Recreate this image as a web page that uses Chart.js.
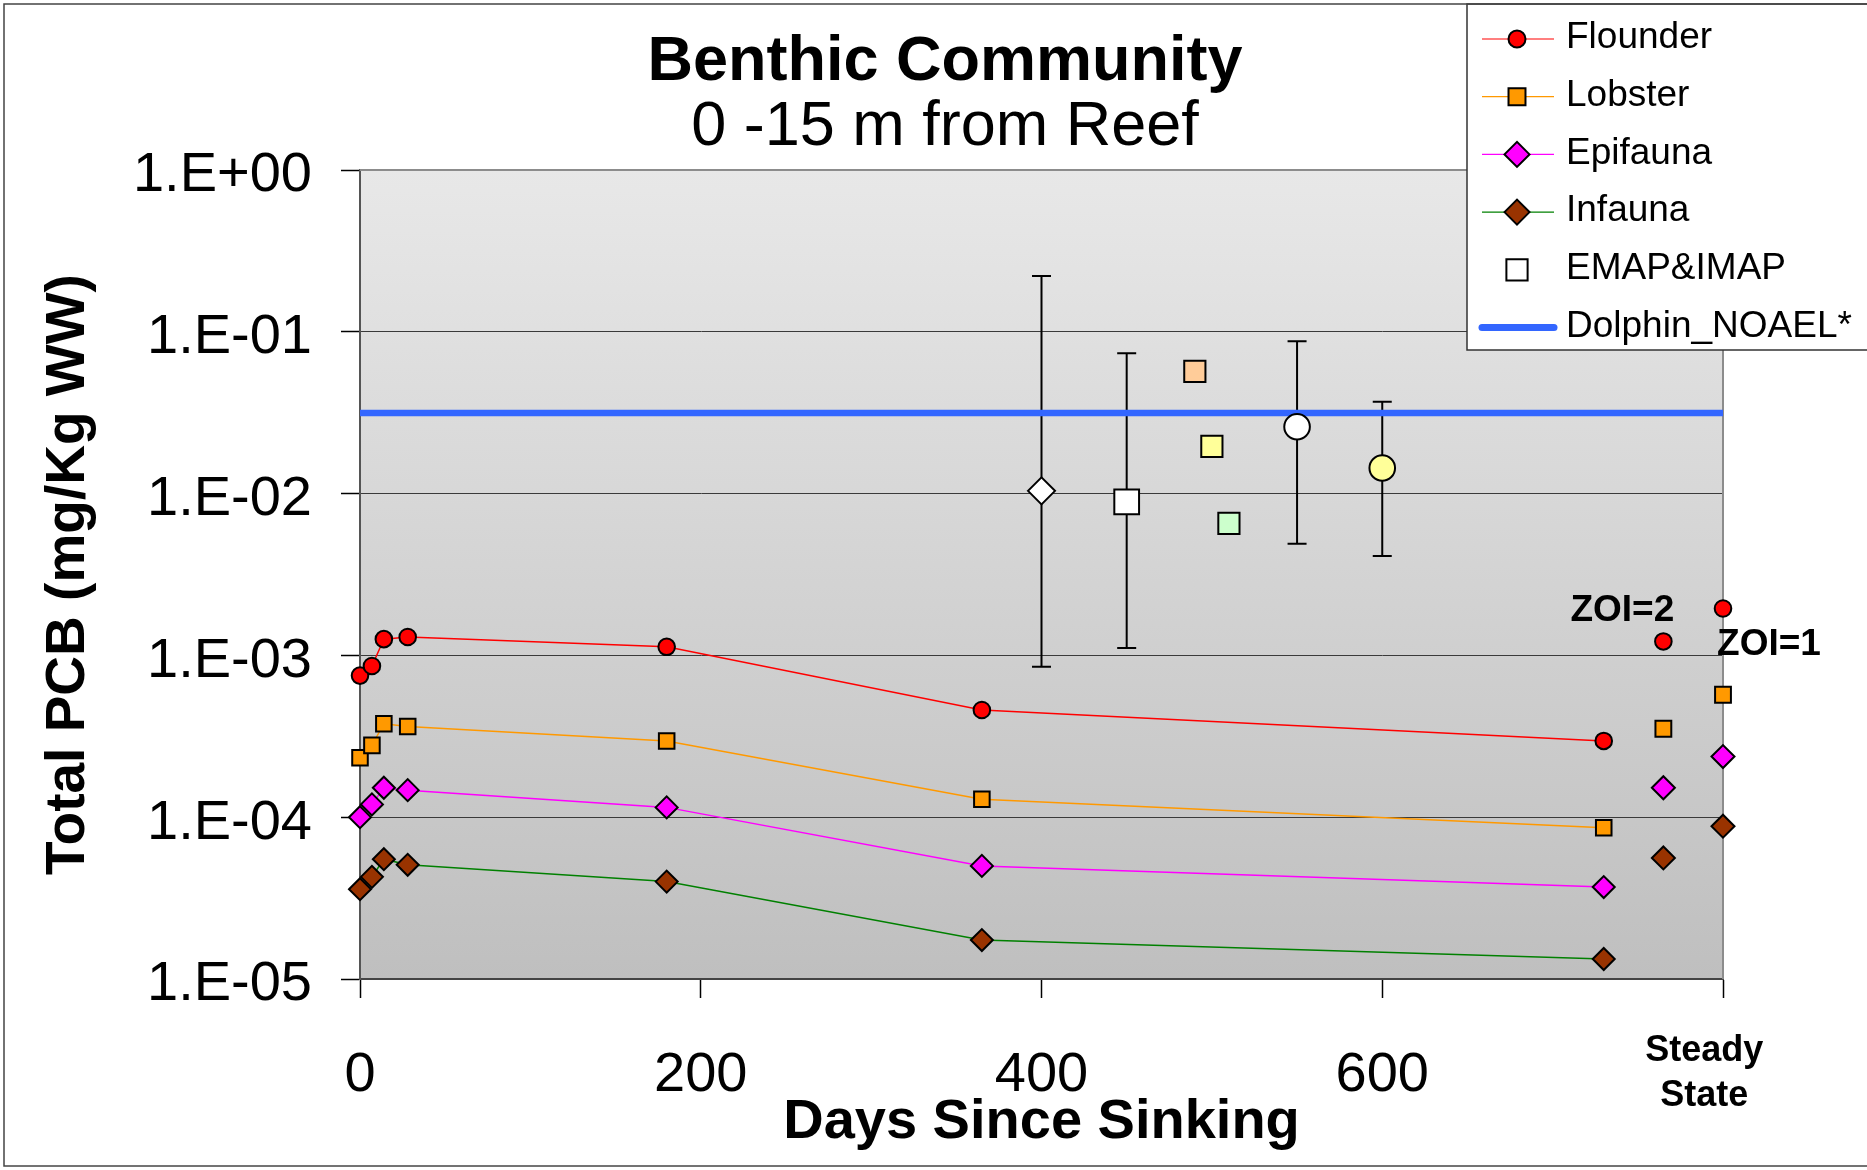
<!DOCTYPE html>
<html>
<head>
<meta charset="utf-8">
<title>Benthic Community</title>
<script src="https://cdn.jsdelivr.net/npm/chart.js@4.4.1/dist/chart.umd.min.js"></script>
<style>
  html, body { margin: 0; padding: 0; background: #fff; }
  #wrap { position: relative; width: 1867px; height: 1170px; }
</style>
</head>
<body>
<div id="wrap"><canvas id="chart"></canvas></div>
<script>
// ---- values ----
const seriesDays = [0, 7, 14, 28, 180, 365, 730];
const flounder = [7.5e-4, 8.6e-4, 1.26e-3, 1.30e-3, 1.13e-3, 4.6e-4, 2.96e-4];
const lobster  = [2.33e-4, 2.78e-4, 3.78e-4, 3.64e-4, 2.96e-4, 1.29e-4, 8.6e-5];
const epifauna = [1.0e-4, 1.2e-4, 1.52e-4, 1.47e-4, 1.15e-4, 5.0e-5, 3.7e-5];
const infauna  = [3.59e-5, 4.28e-5, 5.5e-5, 5.08e-5, 4.0e-5, 1.74e-5, 1.33e-5];

// steady state: ZOI=2 then ZOI=1
const steadyDays = [765, 800];
const flounderSS = [1.22e-3, 1.95e-3];
const lobsterSS  = [3.52e-4, 5.71e-4];
const epifaunaSS = [1.52e-4, 2.37e-4];
const infaunaSS  = [5.6e-5, 8.8e-5];
const zoiLabels  = ['ZOI=2', 'ZOI=1'];

// EMAP & IMAP monitoring values with ranges
const emapDays   = [400, 450, 490, 500, 510, 550, 600];
const emapValues = [0.0104, 0.0089, 0.057, 0.0196, 0.00655, 0.0259, 0.0144];
const emapLow    = [8.5e-4, 1.11e-3, null, null, null, 4.89e-3, 4.12e-3];
const emapHigh   = [0.221, 0.0736, null, null, null, 0.0875, 0.037];

const noaelDays   = [0, 800];
const noaelValues = [0.0315, 0.0315];

// x ticks; the "Steady State" caption sits a little left of the last tick
const xTickValues = [0, 200, 400, 600, 789, 800];
const xTickLabels = ['0', '200', '400', '600', ['Steady', 'State'], ''];
const steadyLabelDay = 789;
const yTickValues = [1e-5, 1e-4, 1e-3, 1e-2, 1e-1, 1];
const yTickLabels = ['1.E-05', '1.E-04', '1.E-03', '1.E-02', '1.E-01', '1.E+00'];

const legendOrder = ['Flounder', 'Lobster', 'Epifauna', 'Infauna', 'EMAP&IMAP', 'Dolphin_NOAEL*'];

// ---- styles ----
const FONT = '"Liberation Sans", Arial, sans-serif';
const emapStyles = ['rectRot', 'rect', 'rect', 'rect', 'rect', 'circle', 'circle'];
const emapFills  = ['#FFFFFF', '#FFFFFF', '#FFCC99', '#FFFF99', '#CCFFCC', '#FFFFFF', '#FFFF99'];
const emapRadius = [13.5, 17.5, 15, 15, 15, 12.8, 12.8];
const zoiOffsets = [[-41, -31], [46, 36]];

const pts = (xs, ys) => xs.map((x, i) => ({ x, y: ys[i] }));

function seriesDataset(label, values, lineColor, fill, style, radius) {
  return {
    label,
    data: pts(seriesDays, values),
    showLine: true,
    clip: false,
    borderColor: lineColor,
    borderWidth: 1.5,
    backgroundColor: fill,
    pointStyle: style,
    pointRadius: radius,
    pointBackgroundColor: fill,
    pointBorderColor: '#000',
    pointBorderWidth: 2,
    legendLine: lineColor,
    legendRadius: style === 'circle' ? 8.5 : style === 'rect' ? 12 : 12.5,
  };
}

function steadyDataset(label, values, fill, style, radius) {
  return {
    label,
    data: pts(steadyDays, values),
    showLine: false,
    clip: false,
    pointStyle: style,
    pointRadius: radius,
    pointBackgroundColor: fill,
    pointBorderColor: '#000',
    pointBorderWidth: 2,
  };
}

const datasets = [
  seriesDataset('Flounder', flounder, '#FF0000', '#FF0000', 'circle', 8.3),
  seriesDataset('Lobster', lobster, '#FF9900', '#FF9900', 'rect', 11),
  seriesDataset('Epifauna', epifauna, '#FF00FF', '#FF00FF', 'rectRot', 11),
  seriesDataset('Infauna', infauna, '#008000', '#993300', 'rectRot', 11),
  steadyDataset('Flounder SS', flounderSS, '#FF0000', 'circle', 8.3),
  steadyDataset('Lobster SS', lobsterSS, '#FF9900', 'rect', 11.2),
  steadyDataset('Epifauna SS', epifaunaSS, '#FF00FF', 'rectRot', 11.5),
  steadyDataset('Infauna SS', infaunaSS, '#993300', 'rectRot', 11.5),
  {
    label: 'EMAP&IMAP',
    data: pts(emapDays, emapValues),
    showLine: false,
    pointStyle: emapStyles,
    pointRadius: emapRadius,
    pointBackgroundColor: emapFills,
    pointBorderColor: '#000',
    pointBorderWidth: 2,
    legendStyle: 'rect',
    legendFill: '#FFFFFF',
    legendRadius: 15,
  },
  {
    label: 'Dolphin_NOAEL*',
    data: pts(noaelDays, noaelValues),
    showLine: true,
    borderColor: '#3366FF',
    borderWidth: 6.5,
    pointRadius: 0,
    order: 1,
    legendLine: '#3366FF',
    legendThick: true,
  },
];

/** Draw one marker shape (for the legend) */
function drawMarker(ctx, style, x, y, r, fill) {
  ctx.save();
  ctx.fillStyle = fill;
  ctx.strokeStyle = '#000';
  ctx.lineWidth = 2;
  ctx.beginPath();
  if (style === 'circle') {
    ctx.arc(x, y, r, 0, Math.PI * 2);
  } else if (style === 'rect') {
    const h = r * Math.SQRT1_2;
    ctx.rect(x - h, y - h, 2 * h, 2 * h);
  } else {
    ctx.moveTo(x - r, y);
    ctx.lineTo(x, y - r);
    ctx.lineTo(x + r, y);
    ctx.lineTo(x, y + r);
    ctx.closePath();
  }
  ctx.fill();
  ctx.stroke();
  ctx.restore();
}

const panelPlugin = {
  id: 'panel',
  beforeDraw(chart) {
    const { ctx, chartArea: a } = chart;
    ctx.save();
    ctx.fillStyle = '#FFFFFF';
    ctx.fillRect(0, 0, chart.width, chart.height);
    const g = ctx.createLinearGradient(0, a.top, 0, a.bottom);
    g.addColorStop(0, '#E8E8E8');
    g.addColorStop(1, '#BFBFBF');
    ctx.fillStyle = g;
    ctx.fillRect(a.left, a.top, a.right - a.left, a.bottom - a.top);
    ctx.restore();
  },
  beforeDatasetsDraw(chart) {
    const { ctx, chartArea: a, scales: { x, y } } = chart;
    ctx.save();
    // top and right frame of the plot
    ctx.strokeStyle = '#8C8C8C';
    ctx.lineWidth = 2;
    ctx.beginPath();
    ctx.moveTo(a.left, a.top);
    ctx.lineTo(a.right, a.top);
    ctx.lineTo(a.right, a.bottom);
    ctx.stroke();
    // error bars behind the markers
    ctx.strokeStyle = '#000';
    ctx.lineWidth = 2;
    emapDays.forEach((d, i) => {
      if (emapLow[i] == null) return;
      const px = x.getPixelForValue(d);
      const lo = y.getPixelForValue(emapLow[i]);
      const hi = y.getPixelForValue(emapHigh[i]);
      ctx.beginPath();
      ctx.moveTo(px, lo);
      ctx.lineTo(px, hi);
      ctx.moveTo(px - 9.5, lo);
      ctx.lineTo(px + 9.5, lo);
      ctx.moveTo(px - 9.5, hi);
      ctx.lineTo(px + 9.5, hi);
      ctx.stroke();
    });
    ctx.restore();
  },
  afterDatasetsDraw(chart) {
    const { ctx, scales: { x, y } } = chart;
    ctx.save();
    ctx.fillStyle = '#000';
    ctx.font = `bold 37px ${FONT}`;
    ctx.textAlign = 'center';
    ctx.textBaseline = 'middle';
    zoiLabels.forEach((t, i) => {
      const px = x.getPixelForValue(steadyDays[i]) + zoiOffsets[i][0];
      const py = y.getPixelForValue(flounderSS[i]) + zoiOffsets[i][1];
      ctx.fillText(t, px, py);
    });
    ctx.restore();
  },
  afterDraw(chart) {
    const { ctx } = chart;
    ctx.save();
    // chart titles
    ctx.fillStyle = '#000';
    ctx.textAlign = 'center';
    ctx.textBaseline = 'middle';
    ctx.font = `bold 63px ${FONT}`;
    ctx.fillText('Benthic Community', 945, 62.5);
    ctx.font = `63px ${FONT}`;
    ctx.fillText('0 -15 m from Reef', 945, 127.5);

    // legend box
    const lx = 1467, ly = 4, lb = 350;
    ctx.fillStyle = '#FFFFFF';
    ctx.fillRect(lx, ly, chart.width - lx + 5, lb - ly);
    ctx.strokeStyle = '#333';
    ctx.lineWidth = 1.5;
    ctx.strokeRect(lx, ly, chart.width - lx + 5, lb - ly);

    ctx.font = `37px ${FONT}`;
    ctx.textAlign = 'left';
    legendOrder.forEach((name, i) => {
      const ds = chart.data.datasets.find((d) => d.label === name);
      const rowY = 38 + i * 57.7;
      const my = rowY + 1;
      if (ds.legendThick) {
        ctx.strokeStyle = ds.legendLine;
        ctx.lineWidth = 7;
        ctx.lineCap = 'round';
        ctx.beginPath();
        ctx.moveTo(1482, my);
        ctx.lineTo(1554, my);
        ctx.stroke();
        ctx.lineCap = 'butt';
      } else {
        if (ds.legendLine) {
          ctx.strokeStyle = ds.legendLine;
          ctx.lineWidth = 1.2;
          ctx.beginPath();
          ctx.moveTo(1482, my);
          ctx.lineTo(1554, my);
          ctx.stroke();
        }
        drawMarker(ctx, ds.legendStyle || ds.pointStyle, 1517, my,
          ds.legendRadius, ds.legendFill || ds.pointBackgroundColor);
      }
      ctx.fillStyle = '#000';
      ctx.fillText(name, 1566, rowY);
    });

    // outer frame
    ctx.strokeStyle = '#444';
    ctx.lineWidth = 1.5;
    ctx.strokeRect(4, 4, chart.width, chart.height - 8);
    ctx.restore();
  },
};

const isSteadyTick = (c) => c.tick && c.tick.value === steadyLabelDay;

new Chart(document.getElementById('chart'), {
  type: 'scatter',
  data: { datasets },
  options: {
    responsive: true,
    maintainAspectRatio: false,
    animation: false,
    events: [],
    layout: { padding: { left: 0, top: 170, right: 144, bottom: 0 } },
    plugins: {
      legend: { display: false },
      tooltip: { enabled: false },
    },
    scales: {
      x: {
        type: 'linear',
        min: 0,
        max: 800,
        afterBuildTicks: (s) => { s.ticks = xTickValues.map((v) => ({ value: v })); },
        afterFit: (s) => { s.height = 191; },
        grid: {
          drawOnChartArea: false,
          tickLength: 19,
          tickWidth: 1.5,
          tickColor: (c) => (isSteadyTick(c) ? 'rgba(0,0,0,0)' : '#000'),
        },
        border: { color: '#444', width: 2 },
        ticks: {
          autoSkip: false,
          maxRotation: 0,
          padding: 31,
          color: '#000',
          callback: (v) => {
            const i = xTickValues.indexOf(v);
            return i >= 0 ? xTickLabels[i] : '';
          },
          font: (c) => (isSteadyTick(c)
            ? { family: FONT, size: 36, weight: 'bold', lineHeight: 1.236 }
            : { family: FONT, size: 56, lineHeight: 1.65 }),
        },
        title: {
          display: true,
          text: 'Days Since Sinking',
          color: '#000',
          font: { family: FONT, size: 56, weight: 'bold' },
          padding: { top: 0, bottom: 14 },
        },
      },
      y: {
        type: 'logarithmic',
        min: 1e-5,
        max: 1,
        afterBuildTicks: (s) => { s.ticks = yTickValues.map((v) => ({ value: v })); },
        afterFit: (s) => { s.width = 360; },
        grid: { color: '#3A3A3A', lineWidth: 1, tickLength: 19, tickColor: '#000', tickWidth: 1.5 },
        border: { color: '#555', width: 2 },
        ticks: {
          padding: 29,
          labelOffset: 6,
          color: '#000',
          font: { family: FONT, size: 56 },
          callback: (v) => {
            const i = yTickValues.indexOf(v);
            return i >= 0 ? yTickLabels[i] : '';
          },
        },
        title: {
          display: true,
          text: 'Total PCB (mg/Kg WW)',
          color: '#000',
          font: { family: FONT, size: 55, weight: 'bold' },
          padding: { top: 36, bottom: 0 },
        },
      },
    },
  },
  plugins: [panelPlugin],
});
</script>
</body>
</html>
